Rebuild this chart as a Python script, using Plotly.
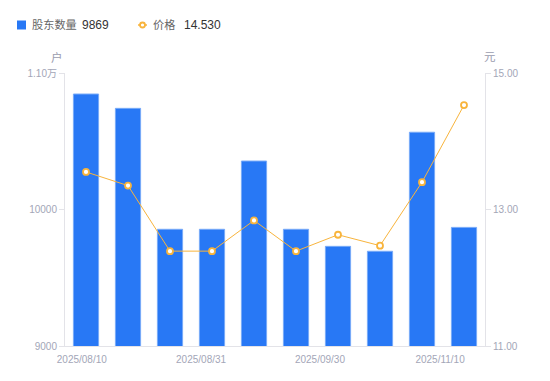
import plotly.graph_objects as go

# ---- data ----
dates = ["2025/08/10", "2025/08/20", "2025/08/29", "2025/08/31", "2025/09/10",
         "2025/09/19", "2025/09/30", "2025/10/20", "2025/10/31", "2025/11/10"]
holders = [10846, 10741, 9855, 9855, 10355, 9855, 9730, 9694, 10566, 9869]
price = [13.55, 13.35, 12.39, 12.39, 12.84, 12.39, 12.63, 12.47, 13.40, 14.53]
x_label_text = ["2025/08/10", "2025/08/31", "2025/09/30", "2025/11/10"]
y1_ticks = [9000, 10000, 11000]
y1_ticktext = ["9000", "10000", "1.10万"]
y2_ticks = [11, 13, 15]
y2_ticktext = ["11.00", "13.00", "15.00"]

# ---- layout geometry ----
W, H = 550, 381
L, R, T, B = 65, 485, 73, 346
x_label_pos = [-0.1, 2.74, 5.57, 8.43]

def px(x):
    return (x - L) / (R - L)

def py(y):
    return (B - y) / (B - T)

BLUE = "#2878f5"
ORANGE = "#f8b43c"
TICK = "#a3a6b7"
FONT = "Liberation Sans, Noto Sans CJK SC, sans-serif"

idx = list(range(len(dates)))

fig = go.Figure()
fig.add_trace(go.Bar(
    x=idx, y=holders, name="股东数量", width=0.6,
    marker=dict(color=BLUE, line=dict(color="#78aaf8", width=1)),
    hovertext=dates, showlegend=False,
))
fig.add_trace(go.Scatter(
    x=idx, y=price, name="价格", yaxis="y2", mode="lines+markers",
    line=dict(color=ORANGE, width=1),
    marker=dict(symbol="circle", size=6, color="white", line=dict(color=ORANGE, width=1.8)),
    hovertext=dates, showlegend=False,
))

fig.update_layout(
    width=W, height=H,
    margin=dict(l=L, r=W - R, t=T, b=H - B, pad=0),
    paper_bgcolor="white", plot_bgcolor="white",
    font=dict(family=FONT, size=10, color=TICK),
    showlegend=False,
    xaxis=dict(
        range=[-0.5, len(dates) - 0.5], showgrid=False, zeroline=False,
        tickmode="array", tickvals=x_label_pos, ticktext=x_label_text,
        showline=True, linecolor="#e3e3e8", linewidth=1, ticks="",
        tickfont=dict(size=10, color=TICK), ticklabelstandoff=4,
    ),
    yaxis=dict(
        range=[9000, 11000], tickmode="array", tickvals=y1_ticks, ticktext=y1_ticktext,
        showgrid=False, zeroline=False, showline=True, linecolor="#e3e3e8", linewidth=1,
        ticks="outside", ticklen=5, tickcolor="#e3e3e8",
        tickfont=dict(size=10, color=TICK),
    ),
    yaxis2=dict(
        range=[11, 15], overlaying="y", side="right", tickmode="array",
        tickvals=y2_ticks, ticktext=y2_ticktext,
        showgrid=False, zeroline=False, showline=True, linecolor="#e3e3e8", linewidth=1,
        ticks="outside", ticklen=5, tickcolor="#e3e3e8",
        tickfont=dict(size=10, color=TICK),
    ),
)

ann = []
def text(x, y, s, color, size=12, xanchor="left"):
    ann.append(dict(x=px(x), y=py(y), xref="paper", yref="paper", text=s, showarrow=False,
                    xanchor=xanchor, yanchor="middle", xshift=-1,
                    font=dict(size=size, color=color, family=FONT)))

text(31, 25, "股东数量", "#666666", size=11.2)
text(81, 25, "9869", "#333333")
text(152, 25, "价格", "#666666", size=11.2)
text(183, 25, "14.530", "#333333")
text(58, 57, "户", "#9a9cae", size=11.5, xanchor="center")
text(490.5, 57, "元", "#9a9cae", size=11.5, xanchor="center")
fig.update_layout(annotations=ann)

fig.update_layout(shapes=[
    dict(type="rect", xref="paper", yref="paper", x0=px(17), x1=px(26), y0=py(20.5), y1=py(29.5),
         fillcolor=BLUE, line=dict(width=0)),
    dict(type="line", xref="paper", yref="paper", x0=px(138), x1=px(147), y0=py(25), y1=py(25),
         line=dict(color=ORANGE, width=1.5)),
    dict(type="circle", xref="paper", yref="paper", x0=px(140), x1=px(145), y0=py(22.5), y1=py(27.5),
         fillcolor="white", line=dict(color=ORANGE, width=1.8)),
])

fig.write_html("out.html", config={"displayModeBar": False},
               post_script="document.body.style.margin='0';")
